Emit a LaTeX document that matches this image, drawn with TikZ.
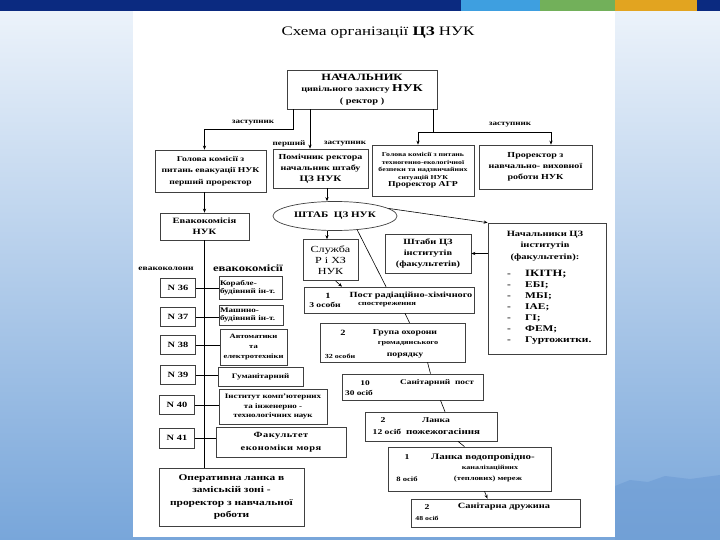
\documentclass[tikz,border=0pt]{standalone}
\usepackage{fontspec}
\setmainfont{Liberation Serif}[FakeStretch=1.3]
\usetikzlibrary{arrows.meta,positioning,shapes.geometric,calc}
\definecolor{barnavy}{HTML}{0B2A80}
\definecolor{barsky}{HTML}{3E9FE0}
\definecolor{bargreen}{HTML}{72B05A}
\definecolor{baryellow}{HTML}{E2A420}
\definecolor{bgtop}{HTML}{EEF4FB}
\definecolor{bgbottom}{HTML}{78A6DA}
\definecolor{bghill}{HTML}{6D9CD4}
\newcommand{\fsz}[2]{\fontsize{#1}{#2}\selectfont}
\newcommand{\dashitem}[1]{\makebox[18pt][l]{-}#1}
\tikzset{
  box/.style={draw=black!75,line width=0.7pt,fill=white,inner sep=1pt,align=center,font=\bfseries},
  txt/.style={inner sep=0pt,font=\bfseries},
  link/.style={line width=0.6pt},
}

\begin{document}
\begin{tikzpicture}[x=1pt,y=-1pt,>={Stealth[length=4pt,width=3.2pt]}]
    \useasboundingbox (0,0) rectangle (720,540);
    % slide background
    \fill[top color=bgtop,bottom color=bgbottom] (0,0) rectangle (720,540);
    \fill[bghill,opacity=0.6] (615,486)--(630,480)--(648,482)--(665,476)--(690,479)--(720,475)--(720,540)--(615,540)--cycle;
    \fill[white] (133,10) rectangle (615,537);
    \fill[barnavy] (0,0) rectangle (720,11);
    \fill[barsky] (461,0) rectangle (540,11);
    \fill[bargreen] (540,0) rectangle (615,11);
    \fill[baryellow] (615,0) rectangle (697,11);

    \node[txt,font=\fsz{13}{16}] (title) at (378,33) {Схема організації \textbf{ЦЗ} НУК};

    % top level
    \node[box,minimum width=150,minimum height=39,font=\bfseries\fsz{8}{11.5}] (chief) at (362,89.5)
      {\fsz{9.6}{11.5}НАЧАЛЬНИК\\\fsz{7.8}{11.5}цивільного захисту \fsz{10.5}{11.5}НУК\\\fsz{8}{9}( ректор )};
    \node[box,minimum width=111,minimum height=42,font=\bfseries\fsz{7.4}{11.5}] (A) at (210.5,171)
      {Голова комісії з\\питань евакуації НУК\\перший проректор};
    \node[box,minimum width=95,minimum height=39,font=\bfseries\fsz{7.7}{11}] (B) at (320.5,168.5)
      {Помічник ректора\\начальник штабу\\\fsz{8.5}{11}ЦЗ НУК};
    \node[box,minimum width=102,minimum height=51,font=\bfseries\fsz{6}{7.5}] (C) at (423,170.5)
      {Голова комісії з питань\\техногенно-екологічної\\безпеки та надзвичайних\\ситуацій НУК\\\fsz{7.5}{8.5}Проректор АГР};
    \node[box,minimum width=113,minimum height=44,font=\bfseries\fsz{7.7}{11}] (D) at (535.5,167)
      {Проректор з\\навчально- виховної\\роботи НУК};

    \coordinate (jl) at (293,129);
    \coordinate (jm) at (310,0);
    \coordinate (jr) at (433,132);
    \coordinate (jc) at (418,0);
    \coordinate (jd) at (551,0);
    \coordinate (jb) at (327,0);
    \draw[link,->] (chief.south -| jm) -- (B.north -| jm);
    \draw[link] (chief.south -| jr) -- (jr);
    \draw[link,->] (jr) -| (C.north -| jc);
    \draw[link,->] (jr) -| (D.north -| jd);
    \node[txt,font=\fsz{7}{8}\bfseries] (zl) at (253,123) {заступник};
    \node[txt,font=\fsz{7}{8}\bfseries] (zp) at (289,144) {перший};
    \node[txt,font=\fsz{7}{8}\bfseries] (zm) at (345,144) {заступник};
    \node[txt,font=\fsz{7}{8}\bfseries] (zr) at (510,125) {заступник};

    % staff
    \node[box,ellipse,minimum width=124,minimum height=29,inner sep=0pt,font=\bfseries\fsz{8.5}{9}] (shtab) at (335,216) {ШТАБ\ \ ЦЗ НУК};
    \node[box,minimum width=55,minimum height=41,font=\fsz{9.3}{11}] (sluzhba) at (330.5,260) {Служба\\Р і ХЗ\\НУК};
    \node[box,minimum width=86,minimum height=39,font=\bfseries\fsz{8}{11}] (shtaby) at (428,253.5) {Штаби ЦЗ\\інститутів\\(факультетів)};
    \node[box,minimum width=118,minimum height=131] (nach) at (547,288.5) {};
    \node[txt,font=\bfseries\fsz{8.1}{11.5},align=center] (nachhead) at (545,246) {Начальники ЦЗ\\інститутів\\(факультетів):};
    \node[txt,font=\bfseries\fsz{8.8}{11},align=left,anchor=north west] (nachlist) at (507,270)
      {\dashitem{\fsz{9.7}{11}ІКІТН;}\\\dashitem{ЕБІ;}\\\dashitem{МБІ;}\\\dashitem{ІАЕ;}\\\dashitem{ГІ;}\\\dashitem{ФЕМ;}\\\dashitem{Гуртожитки.}};
    \draw[link,->] (B.south -| jb) -- (shtab.north -| jb);
    \draw[link,->] (shtab.south -| jb) -- (sluzhba.north -| jb);
    \draw[link,->] (shtab.8) -- (nach.north west);
    \draw[link,->] (nach.west |- shtaby.east) -- (shtaby.east);

    % evacuation
    \node[box,minimum width=89,minimum height=27,font=\bfseries\fsz{8.1}{11}] (evak) at (204.5,226.5) {Евакокомісія\\НУК};
    \draw[link,->] (chief.south -| jl) -- (jl) -| (A.north -| evak.north);
    \draw[link,->] (A.south -| evak.north) -- (evak.north);
    \node[txt,font=\fsz{7.3}{8}\bfseries] (kolony) at (166,269) {евакоколони};
    \node[txt,font=\fsz{9.7}{12}\bfseries] (komisii) at (248,268) {евакокомісії};
    \node[box,minimum width=35,minimum height=19,font=\bfseries\fsz{8}{9}] (n36) at (178,288) {N 36};
    \node[box,minimum width=35,minimum height=19,font=\bfseries\fsz{8}{9}] (n37) at (178,317) {N 37};
    \node[box,minimum width=35,minimum height=19,font=\bfseries\fsz{8}{9}] (n38) at (178,345) {N 38};
    \node[box,minimum width=35,minimum height=19,font=\bfseries\fsz{8}{9}] (n39) at (178,375) {N 39};
    \node[box,minimum width=35,minimum height=19,font=\bfseries\fsz{8}{9}] (n40) at (177,405) {N 40};
    \node[box,minimum width=35,minimum height=20,font=\bfseries\fsz{8}{9}] (n41) at (177,438) {N 41};
    \node[box,text width=61,align=left,minimum height=23,font=\bfseries\fsz{7}{8.5}] (kor) at (250.5,287.5) {Корабле-\\будівний ін-т.};
    \node[box,text width=62,align=left,minimum height=20,font=\bfseries\fsz{7}{8.5}] (mash) at (251,315) {Машино-\\будівний ін-т.};
    \node[box,minimum width=67,minimum height=36,font=\bfseries\fsz{6.6}{10}] (avt) at (253.5,347) {Автоматики\\та\\електротехніки};
    \node[box,minimum width=85,minimum height=19,font=\bfseries\fsz{6.9}{8}] (gum) at (260.5,376.5) {Гуманітарний};
    \node[box,minimum width=108,minimum height=35,font=\bfseries\fsz{6.9}{9.5}] (inst) at (273,406.5) {Інститут комп’ютерних\\та інженерно -\\технологічних наук};
    \node[box,minimum width=130,minimum height=30,font=\bfseries\fsz{8}{13}\addfontfeature{LetterSpace=6}] (fak) at (281,442) {Факультет\\економіки моря};
    \node[box,minimum width=145,minimum height=58,font=\bfseries\fsz{8.8}{12.3}] (oper) at (231.5,497) {Оперативна ланка в\\заміській зоні -\\проректор з навчальної\\роботи};
    \draw[link] (evak.south) -- (evak.south |- oper.north);
    \foreach \n/\m in {n36/kor,n37/mash,n38/avt,n39/gum,n40/inst,n41/fak}
      \draw[link] (\n.east) -- (\n.east -| \m.west);

    % formations
    \node[box,minimum width=170,minimum height=26] (post) at (389,300) {};
    \node[txt,font=\fsz{8}{9}\bfseries] (postn) at (328,296) {1};
    \node[txt,font=\fsz{7.9}{9}\bfseries] (postt) at (411,296) {Пост радіаційно-хімічного};
    \node[txt,font=\fsz{7.4}{9}\bfseries] (postp) at (325,305) {3 особи};
    \node[txt,font=\fsz{6.6}{9}\bfseries] (posts) at (387,305) {спостереження};
    \node[box,minimum width=145,minimum height=39] (grupa) at (392.5,342.5) {};
    \node[txt,font=\fsz{8}{9}\bfseries] (grupan) at (343,333) {2};
    \node[txt,font=\fsz{7.5}{10}\bfseries] (grupat) at (405,333) {Група охорони};
    \node[txt,font=\fsz{6.4}{10}\bfseries] (grupag) at (408,344) {громадянського};
    \node[txt,font=\fsz{6.2}{9}\bfseries] (grupap) at (340,356) {32 особи};
    \node[txt,font=\fsz{7.5}{10}\bfseries] (grupar) at (405,356) {порядку};
    \node[box,minimum width=141,minimum height=26] (sanpost) at (412.5,387) {};
    \node[txt,font=\fsz{7.2}{9}\bfseries] (sanpostn) at (365,383) {10};
    \node[txt,font=\fsz{7.2}{9}\bfseries] (sanpostt) at (437,383) {Санітарний\ \ пост};
    \node[txt,font=\fsz{7.2}{9}\bfseries] (sanpostp) at (359,393) {30 осіб};
    \node[box,minimum width=132,minimum height=29] (lanka) at (431,426.5) {};
    \node[txt,font=\fsz{7.5}{9}\bfseries] (lankan) at (383,420) {2};
    \node[txt,font=\fsz{7.4}{9}\bfseries] (lankat) at (436,420) {Ланка};
    \node[txt,font=\fsz{7.4}{9}\bfseries] (lankap) at (387,432) {12 осіб};
    \node[txt,font=\fsz{8.4}{9}\bfseries] (lankas) at (443,432) {пожежогасіння};
    \node[box,minimum width=163,minimum height=44] (vodo) at (469.5,469) {};
    \node[txt,font=\fsz{7.5}{9}\bfseries] (vodon) at (407,457) {1};
    \node[txt,font=\fsz{8.4}{9}\bfseries] (vodot) at (483,457) {Ланка водопровідно-};
    \node[txt,font=\fsz{6.2}{9}\bfseries] (vodok) at (490,468) {каналізаційних};
    \node[txt,font=\fsz{6.6}{9}\bfseries] (vodop) at (407,479) {8 осіб};
    \node[txt,font=\fsz{6.6}{9}\bfseries] (vodom) at (488,479) {(теплових) мереж};
    \node[box,minimum width=169,minimum height=28] (druzh) at (495.5,513) {};
    \node[txt,font=\fsz{7.5}{9}\bfseries] (druzhn) at (427,507) {2};
    \node[txt,font=\fsz{8}{9}\bfseries] (druzht) at (504,507) {Санітарна дружина};
    \node[txt,font=\fsz{6}{9}\bfseries] (druzhp) at (427,518) {48 осіб};
    \draw[link,->] ([xshift=5]sluzhba.south) -- ([xshift=-47]post.north);
    \draw[link] (shtab.-32) -- ([xshift=-3]post.north);
    \draw[link] ([xshift=16]post.south) -- ([xshift=17]grupa.north);
    \draw[link] ([xshift=35]grupa.south) -- ([xshift=18]sanpost.north);
    \draw[link] ([xshift=28]sanpost.south) -- ([xshift=14]lanka.north);
    \draw[link] ([xshift=27]lanka.south) -- ([xshift=-5]vodo.north);
    \draw[link,->] ([xshift=15]vodo.south) -- ([xshift=-8]druzh.north);
  \end{tikzpicture}
\end{document}
